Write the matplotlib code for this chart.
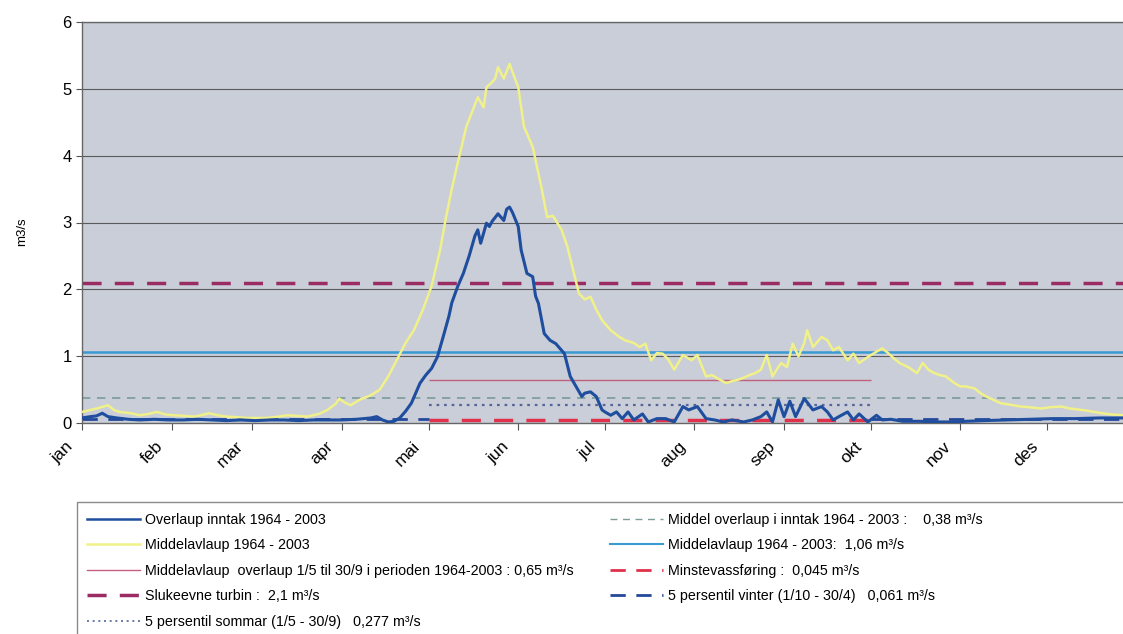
import matplotlib
matplotlib.use("Agg")
import matplotlib.pyplot as plt
import matplotlib.transforms as mtransforms
from matplotlib.patches import Rectangle
from matplotlib.lines import Line2D

plt.rcParams['font.family'] = ['Liberation Sans', 'DejaVu Sans']

# month labels and day-of-year where each month starts
months = ['jan', 'feb', 'mar', 'apr', 'mai', 'jun', 'jul', 'aug', 'sep', 'okt', 'nov', 'des']
month_start = [0, 31, 59, 90, 120, 151, 181, 212, 243, 273, 304, 334]

# Middelavlaup 1964 - 2003 (yellow)
avl_day = [0, 3, 5, 9, 11, 13, 17, 20, 23, 26, 29, 32, 36, 39, 42, 44, 47, 50, 54, 57,
           61, 64, 68, 71, 75, 78, 82, 85, 88, 89, 91, 93, 96, 100, 103, 106, 109, 112, 115, 118,
           121, 124, 126, 128, 130, 132, 133, 135, 137, 139, 140, 142, 143, 144, 146, 148, 149, 151, 153, 155,
           156, 159, 161, 163, 166, 168, 170, 172, 174, 176, 178, 180, 183, 186, 188, 191, 193, 195, 197, 199,
           201, 203, 205, 207, 208, 211, 213, 216, 218, 220, 223, 225, 227, 229, 231, 233, 235, 237, 239, 241,
           242, 244, 246, 248, 250, 251, 253, 256, 258, 260, 262, 265, 267, 269, 272, 275, 277, 279, 281, 283,
           286, 289, 291, 293, 295, 297, 299, 302, 304, 306, 309, 311, 313, 316, 318, 321, 325, 328, 332, 335,
           339, 342, 346, 349, 353, 357, 361, 364]
avl_val = [0.17, 0.20, 0.22, 0.27, 0.20, 0.17, 0.15, 0.12, 0.14, 0.17, 0.13, 0.12, 0.11, 0.10, 0.13, 0.15, 0.12, 0.10, 0.09, 0.08,
           0.08, 0.08, 0.10, 0.12, 0.11, 0.10, 0.14, 0.20, 0.30, 0.37, 0.31, 0.27, 0.35, 0.42, 0.50, 0.70, 0.95, 1.20, 1.40, 1.70,
           2.05, 2.60, 3.08, 3.50, 3.88, 4.25, 4.43, 4.65, 4.87, 4.72, 5.02, 5.10, 5.15, 5.32, 5.15, 5.37, 5.25, 5.02, 4.43, 4.23,
           4.13, 3.53, 3.08, 3.10, 2.89, 2.64, 2.29, 1.94, 1.85, 1.89, 1.70, 1.54, 1.39, 1.29, 1.24, 1.20, 1.14, 1.19, 0.94, 1.05,
           1.04, 0.95, 0.80, 0.95, 1.02, 0.94, 1.02, 0.70, 0.72, 0.67, 0.60, 0.63, 0.65, 0.68, 0.72, 0.75, 0.80, 1.02, 0.70, 0.84,
           0.90, 0.84, 1.19, 1.00, 1.20, 1.39, 1.14, 1.29, 1.24, 1.09, 1.14, 0.94, 1.04, 0.90, 0.99, 1.07, 1.12, 1.05, 0.97, 0.90,
           0.84, 0.75, 0.90, 0.80, 0.75, 0.72, 0.70, 0.60, 0.55, 0.55, 0.52, 0.45, 0.40, 0.34, 0.30, 0.28, 0.25, 0.24, 0.22, 0.24,
           0.25, 0.22, 0.20, 0.18, 0.15, 0.13, 0.12, 0.11]

# Overlaup inntak 1964 - 2003 (dark blue)
ovl_day = [0, 3, 5, 7, 9, 12, 16, 20, 25, 30, 35, 40, 45, 50, 55, 60, 65, 70, 75, 80,
           85, 90, 95, 100, 102, 104, 106, 108, 110, 112, 114, 117, 119, 121, 123, 125, 127, 128, 130, 132,
           134, 136, 137, 138, 140, 141, 142, 144, 146, 147, 148, 149, 151, 152, 154, 156, 157, 158, 160, 162,
           164, 167, 169, 171, 173, 174, 176, 178, 180, 181, 183, 185, 187, 189, 191, 194, 196, 199, 202, 205,
           208, 210, 213, 216, 219, 222, 225, 229, 232, 235, 237, 239, 241, 243, 245, 247, 250, 253, 256, 258,
           260, 262, 265, 267, 269, 272, 275, 277, 280, 284, 290, 296, 302, 306, 312, 320, 328, 336, 344, 352,
           360, 364]
ovl_val = [0.08, 0.10, 0.11, 0.15, 0.10, 0.08, 0.06, 0.05, 0.06, 0.05, 0.05, 0.06, 0.05, 0.04, 0.05, 0.04, 0.05, 0.05, 0.04, 0.05,
           0.05, 0.05, 0.06, 0.08, 0.10, 0.05, 0.02, 0.03, 0.08, 0.18, 0.30, 0.60, 0.72, 0.82, 0.99, 1.29, 1.60, 1.80, 2.04, 2.24,
           2.50, 2.80, 2.89, 2.69, 2.99, 2.94, 3.02, 3.13, 3.03, 3.20, 3.23, 3.15, 2.94, 2.59, 2.24, 2.19, 1.90, 1.79, 1.34, 1.24,
           1.19, 1.04, 0.70, 0.55, 0.40, 0.45, 0.47, 0.40, 0.20, 0.17, 0.12, 0.17, 0.07, 0.17, 0.05, 0.14, 0.02, 0.07, 0.07, 0.02,
           0.25, 0.20, 0.25, 0.07, 0.05, 0.02, 0.05, 0.02, 0.05, 0.10, 0.17, 0.02, 0.35, 0.10, 0.33, 0.10, 0.37, 0.20, 0.25, 0.17,
           0.05, 0.10, 0.17, 0.05, 0.14, 0.02, 0.12, 0.05, 0.06, 0.03, 0.03, 0.02, 0.02, 0.03, 0.04, 0.05, 0.06, 0.07, 0.07, 0.08,
           0.08, 0.08]

# constant reference levels (m3/s)
middel_overlaup = 0.38
middelavlaup = 1.06
middel_overlaup_sommar = 0.65
minstevassforing = 0.045
slukeevne = 2.1
persentil_sommar = 0.277
persentil_vinter = 0.061

fig = plt.figure(figsize=(11.23, 6.34), dpi=100)
ax = fig.add_axes([82 / 1123, (634 - 423.3) / 634, (1136.2 - 81.7) / 1123, (423.3 - 21.7) / 634])
ax.set_facecolor('#c9ced8')

for yv in range(1, 7):
    ax.axhline(yv, color='#5a5a5a', lw=0.8, zorder=1)

ax.hlines(slukeevne, 0, 365, color='#9a2c63', lw=2.5, linestyles=(0, (5.5, 3.8)), zorder=2)
ax.hlines(middelavlaup, 0, 365, color='#3a9ad2', lw=1.8, zorder=2)
ax.hlines(middel_overlaup, 0, 365, color='#7c9c98', lw=1.2, linestyles=(0, (5, 4)), zorder=2)
ax.hlines(middel_overlaup_sommar, 120, 273, color='#c2607e', lw=1.0, zorder=2)
ax.hlines(persentil_sommar, 120, 273, color='#55649a', lw=1.6, linestyles=(0, (1.2, 2.2)), zorder=2)
ax.hlines(minstevassforing, 120, 273, color='#e0304a', lw=2.5, linestyles=(0, (5.5, 3.8)), zorder=2)
ax.hlines(persentil_vinter, 0, 120, color='#24489a', lw=2.0, linestyles=(0, (5.5, 3.8)), zorder=2)
ax.hlines(persentil_vinter, 273, 365, color='#24489a', lw=2.0, linestyles=(0, (5.5, 3.8)), zorder=2)

ax.plot(avl_day, avl_val, color='#f1f18a', lw=1.8, zorder=3)
ax.plot(ovl_day, ovl_val, color='#1f4e9e', lw=2.2, zorder=4)

ax.set_xlim(0, 365)
ax.set_ylim(0, 6)
ax.set_yticks(range(0, 7))
ax.set_xticks(month_start)
ax.set_xticklabels(months, rotation=45, ha='right', va='top', fontsize=12.5)
ax.tick_params(axis='y', labelsize=12, length=4, color='#555555')
ax.tick_params(axis='x', length=5, color='#555555', pad=6)
# nudge month labels a bit to the left, like the original
shift = mtransforms.ScaledTranslation(-6 / 100, 0, fig.dpi_scale_trans)
for lab in ax.get_xticklabels():
    lab.set_transform(lab.get_transform() + shift)
for side in ['left', 'bottom', 'top']:
    ax.spines[side].set_color('#666666')
    ax.spines[side].set_linewidth(1.0)
ax.spines['right'].set_visible(False)
fig.text(22 / 1123, 1 - 232 / 634, 'm3/s', rotation=90, ha='center', va='center', fontsize=9.5)

# legend frame
fig.patches.append(Rectangle((77 / 1123, -0.05), 1.1, (634 - 502) / 634 + 0.05,
                             transform=fig.transFigure, fill=False, edgecolor='#8a8a8a', lw=1.0))

left_handles = [
    Line2D([], [], color='#1f4e9e', lw=1.8),
    Line2D([], [], color='#f1f18a', lw=1.8),
    Line2D([], [], color='#c2607e', lw=1.0),
    Line2D([], [], color='#9a2c63', lw=2.5, ls=(0, (5.5, 3.8))),
    Line2D([], [], color='#55649a', lw=1.2, ls=(0, (1.2, 2.2))),
]
left_labels = [
    'Overlaup inntak 1964 - 2003',
    'Middelavlaup 1964 - 2003',
    'Middelavlaup  overlaup 1/5 til 30/9 i perioden 1964-2003 : 0,65 m³/s',
    'Slukeevne turbin :  2,1 m³/s',
    '5 persentil sommar (1/5 - 30/9)   0,277 m³/s',
]
right_handles = [
    Line2D([], [], color='#7c9c98', lw=1.0, ls=(0, (5, 4))),
    Line2D([], [], color='#3a9ad2', lw=1.5),
    Line2D([], [], color='#e0304a', lw=2.0, ls=(0, (5.5, 3.8))),
    Line2D([], [], color='#24489a', lw=2.0, ls=(0, (5.5, 3.8))),
]
right_labels = [
    'Middel overlaup i inntak 1964 - 2003 :    0,38 m³/s',
    'Middelavlaup 1964 - 2003:  1,06 m³/s',
    'Minstevassføring :  0,045 m³/s',
    '5 persentil vinter (1/10 - 30/4)   0,061 m³/s',
]
leg_kw = dict(frameon=False, fontsize=10.3, handlelength=3.7, handletextpad=0.35,
              labelspacing=0.8, borderpad=0, borderaxespad=0, loc='upper left')
leg1 = fig.legend(left_handles, left_labels, bbox_to_anchor=(87 / 1123, 1 - 513 / 634), **leg_kw)
leg2 = fig.legend(right_handles, right_labels, bbox_to_anchor=(610 / 1123, 1 - 513 / 634), **leg_kw)

fig.savefig('out.png', dpi=100)
